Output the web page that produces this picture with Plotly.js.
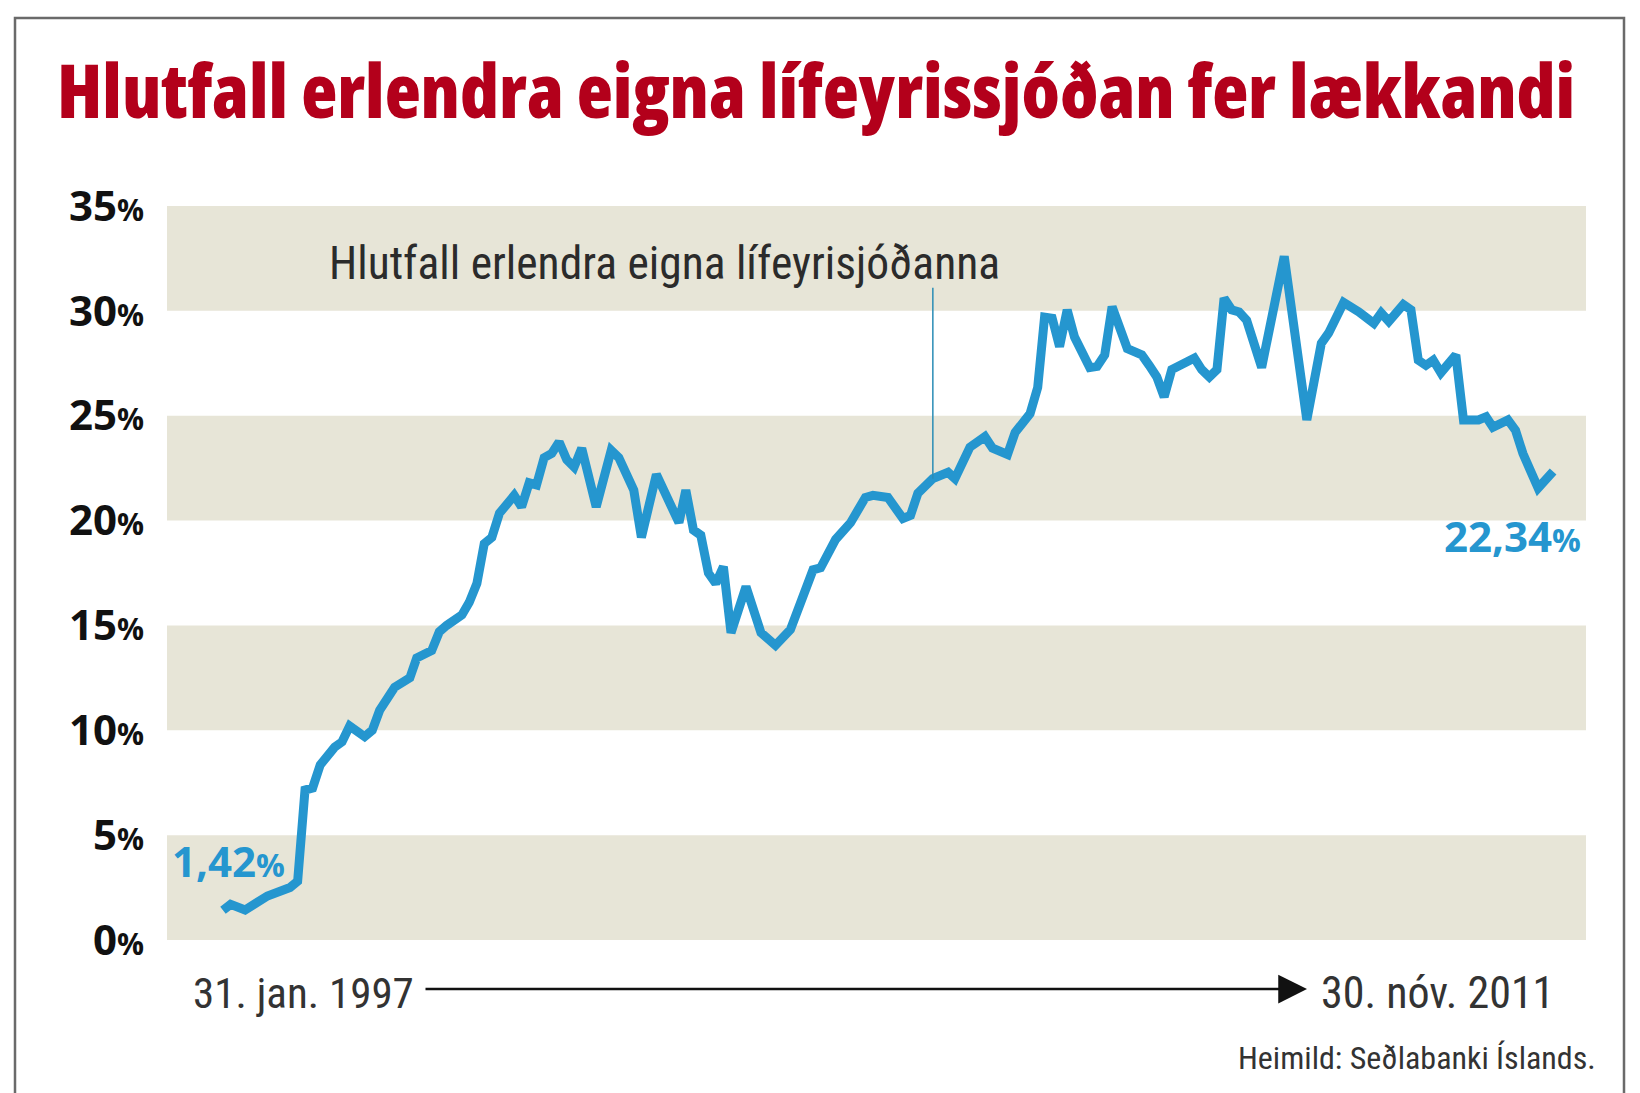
<!DOCTYPE html>
<html>
<head>
<meta charset="utf-8">
<script src="https://cdn.plot.ly/plotly-3.0.1.min.js"></script>
<style>
  html, body { margin: 0; padding: 0; background: #fff; }
  #chart { width: 1640px; height: 1093px; }
  /* condensed faces from the fonts; also hits plotly's text tester */
  svg text { font-stretch: 75%; }
  #chart .ytick text { font-stretch: 95%; }
</style>
</head>
<body>
<div id="chart"></div>
<script>
// foreign assets share of the pension funds (month, %)
var months = [
  "1997-01","1997-02","1997-04","1997-06","1997-07","1997-10","1997-11","1997-12",
  "1998-01","1998-02","1998-04","1998-05","1998-06","1998-08","1998-09","1998-10","1998-12",
  "1999-02","1999-03","1999-05","1999-06","1999-07","1999-09","1999-10","1999-11","1999-12",
  "2000-01","2000-02","2000-04","2000-05","2000-06","2000-07","2000-08","2000-09","2000-10","2000-11","2000-12",
  "2001-01","2001-03","2001-05","2001-06","2001-08","2001-09","2001-11",
  "2002-01","2002-02","2002-03","2002-04","2002-05","2002-06","2002-07","2002-08","2002-09","2002-11",
  "2003-01","2003-03","2003-05","2003-08","2003-09","2003-11",
  "2004-01","2004-03","2004-04","2004-06","2004-08","2004-09","2004-10","2004-12",
  "2005-02","2005-03","2005-05","2005-07","2005-08","2005-10","2005-11",
  "2006-01","2006-02","2006-03","2006-04","2006-05","2006-06","2006-07","2006-09","2006-10","2006-11","2006-12",
  "2007-02","2007-04","2007-05","2007-06","2007-07","2007-08","2007-11","2007-12",
  "2008-01","2008-02","2008-03","2008-04","2008-05","2008-06","2008-08","2008-11",
  "2009-02","2009-04","2009-05","2009-07","2009-09","2009-11","2009-12",
  "2010-01","2010-03","2010-04","2010-05","2010-06","2010-07","2010-08","2010-10","2010-11",
  "2011-01","2011-02","2011-03","2011-05","2011-06","2011-07","2011-09","2011-11"
];
var share = [
  1.42,1.7,1.43,1.8,2.1,2.5,2.8,7.15,7.25,8.35,9.2,9.45,10.2,9.7,10.0,10.95,12.05,12.5,13.45,13.8,14.7,15.0,
  15.5,16.1,17.0,18.9,19.2,20.35,21.2,20.65,21.8,21.7,23.0,23.2,23.75,22.9,22.55,23.45,20.65,23.35,23.0,21.45,19.2,22.2,20.5,19.9,
  21.45,19.55,19.3,17.5,17.0,17.8,14.65,16.85,14.65,14.05,14.8,17.65,17.75,19.1,19.9,21.1,21.2,21.1,20.1,20.25,
  21.3,22.0,22.3,22.0,23.5,24.0,23.45,23.15,24.2,25.1,26.35,29.7,29.65,28.3,30.05,28.75,27.3,27.35,27.9,30.2,28.2,27.9,
  27.4,26.85,25.9,27.2,27.75,27.2,26.85,27.2,30.6,30.05,29.95,29.55,27.3,32.6,24.8,28.45,28.95,30.4,29.95,
  29.4,29.9,29.5,30.3,30.05,27.65,27.4,27.65,27.05,27.9,24.8,24.8,24.95,24.45,24.8,24.3,23.2,21.55,22.34
];
var tickVals = [0, 5, 10, 15, 20, 25, 30, 35];
var tickLabels = ["0", "5", "10", "15", "20", "25", "30", "35"];
var bandStarts = [0, 10, 20, 30];

var heavy = "Open Sans, sans-serif";
var light = "Roboto, sans-serif";
var blue = "#2596cf";

// plot box in page pixels, used to place the free texts
var L = 167, R = 1586, T = 206, B = 940;
function px(x) { return (x - L) / (R - L); }
function py(y) { return (B - y) / (B - T); }

var pct = function (s, size) { return s + "<span style='font-size:" + size + "px'>%</span>"; };
// blue end labels, normal width
var endLabel = function (s) {
  return "<span style='font-stretch:100%'>" + s + "</span>" +
         "<span style='font-stretch:100%;font-size:32px'>%</span>";
};

var trace = {
  x: months,
  y: share,
  type: "scatter",
  mode: "lines",
  line: { color: blue, width: 9 },
  hoverinfo: "skip"
};

var shapes = bandStarts.map(function (v) {
  return {
    type: "rect", xref: "paper", yref: "y", layer: "below",
    x0: 0, x1: 1, y0: v, y1: v + 5,
    fillcolor: "#e7e5d7", line: { width: 0 }
  };
});
shapes.push({
  type: "line", xref: "x", yref: "y",
  x0: "2004-12", x1: "2004-12", y0: 22.0, y1: 31.1,
  line: { color: "#2a8cb5", width: 1.5 }
});
shapes.push({
  type: "rect", xref: "paper", yref: "paper", layer: "above",
  x0: px(15), x1: px(1624), y0: py(1120), y1: py(18),
  line: { color: "#6a6a6a", width: 2.5 }
});

var annotations = [
  {
    text: "Hlutfall erlendra eigna lífeyrisjóðanna",
    xref: "paper", yref: "paper", x: px(327), y: py(264),
    xanchor: "left", yanchor: "middle", showarrow: false,
    font: { family: light, size: 45.5, color: "#2b2b2b" }
  },
  {
    text: endLabel("1,42"),
    xref: "paper", yref: "paper", x: px(170), y: py(860),
    xanchor: "left", yanchor: "middle", showarrow: false,
    font: { family: heavy, size: 42, color: blue, weight: 700 }
  },
  {
    text: endLabel("22,34"),
    xref: "paper", yref: "paper", x: px(1583), y: py(535),
    xanchor: "right", yanchor: "middle", showarrow: false,
    font: { family: heavy, size: 42, color: blue, weight: 700 }
  },
  {
    text: "31. jan. 1997",
    xref: "paper", yref: "paper", x: px(191), y: py(993),
    xanchor: "left", yanchor: "middle", showarrow: false,
    font: { family: light, size: 43, color: "#333333" }
  },
  {
    text: "30. nóv. 2011",
    xref: "paper", yref: "paper", x: px(1556), y: py(993),
    xanchor: "right", yanchor: "middle", showarrow: false,
    font: { family: light, size: 44, color: "#333333" }
  },
  {
    text: "",
    xref: "paper", yref: "paper", x: px(1307), y: py(989),
    showarrow: true, arrowhead: 2, arrowsize: 2.3, arrowwidth: 2.5,
    arrowcolor: "#111111", ax: -883, ay: 0, standoff: 0
  },
  {
    text: "Heimild: Seðlabanki Íslands.",
    xref: "paper", yref: "paper", x: px(1598), y: py(1058),
    xanchor: "right", yanchor: "middle", showarrow: false,
    font: { family: light, size: 32, color: "#333333" }
  }
];

var layout = {
  width: 1640,
  height: 1093,
  paper_bgcolor: "#ffffff",
  plot_bgcolor: "#ffffff",
  margin: { l: L, r: 1640 - R, t: T, b: 1093 - B, pad: 0 },
  showlegend: false,
  title: {
    text: "Hlutfall erlendra eigna lífeyrissjóðan fer lækkandi",
    xref: "container", yref: "container",
    x: 57 / 1640, xanchor: "left",
    y: 1 - 92 / 1093, yanchor: "middle",
    font: { family: heavy, size: 74.5, color: "#b3001b", weight: 800 }
  },
  xaxis: {
    type: "date",
    range: ["1996-05-18", "2012-03-14"],
    visible: false
  },
  yaxis: {
    range: [0, 35],
    showgrid: false,
    zeroline: false,
    showline: false,
    ticks: "",
    tickvals: tickVals,
    ticktext: tickLabels.map(function (t) { return pct(t, 30); }),
    ticklabelstandoff: 22,
    tickfont: { family: heavy, size: 42, color: "#111111", weight: 700 }
  },
  shapes: shapes,
  annotations: annotations
};

Plotly.newPlot("chart", [trace], layout, { displayModeBar: false, staticPlot: true });
</script>
</body>
</html>
